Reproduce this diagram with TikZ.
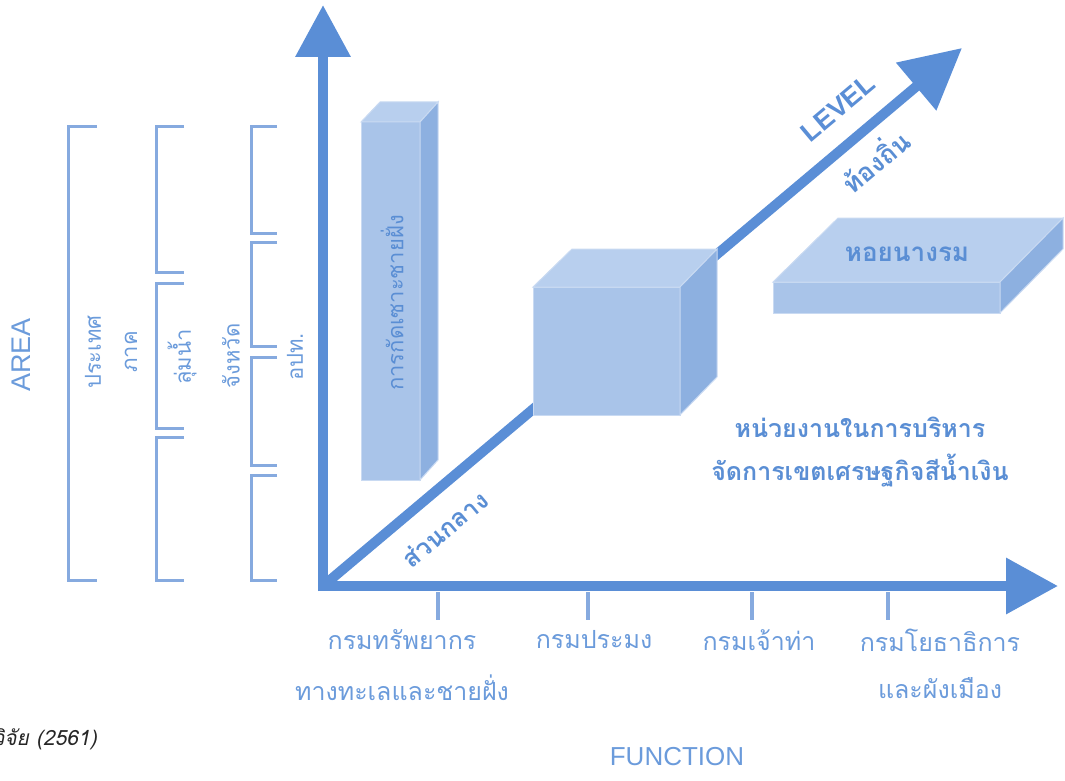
\documentclass[tikz,border=0pt]{standalone}
\usepackage{fontspec}
\setmainfont{Liberation Sans}
\newfontfamily\thai[Script=Thai]{Loma}
\newfontfamily\thaiit[Script=Thai,FakeSlant=0.2]{Loma}
\usetikzlibrary{arrows.meta}
\definecolor{axiscol}{HTML}{5A8ED6}
\definecolor{brackcol}{HTML}{86AADF}
\definecolor{labcol}{HTML}{6B9BDB}
\definecolor{boxtxt}{HTML}{5A8ED4}
\definecolor{frontcol}{HTML}{A9C4E9}
\definecolor{topcol}{HTML}{B8CFEE}
\definecolor{sidecol}{HTML}{8DB0E0}
\definecolor{edgecol}{HTML}{C9DAF2}
\begin{document}
\begin{tikzpicture}[x=1pt,y=-1pt,
  axisline/.style={draw=axiscol,line width=10pt},
  brack/.style={draw=brackcol,line width=3pt},
  tick/.style={draw=brackcol,line width=4pt},
  front/.style={fill=frontcol,draw=edgecol,line width=1pt},
  topf/.style={fill=topcol,draw=edgecol,line width=1pt},
  sidef/.style={fill=sidecol,draw=edgecol,line width=1pt},
  lab/.style={text=labcol,font=\thai\fontsize{25}{27}\selectfont,inner sep=0pt},
  vlab/.style={lab,font=\thai\fontsize{22}{24}\selectfont,rotate=90},
  boxlab/.style={text=boxtxt,font=\thai\bfseries\fontsize{25}{27}\selectfont,inner sep=0pt},
  axislab/.style={text=labcol,font=\fontsize{26}{28}\selectfont,inner sep=0pt}
]
\useasboundingbox (0,0) rectangle (1065,781);
% axes
\coordinate (O) at (323,586);
\coordinate (ytip) at (323,5);
\coordinate (xtip) at (1058,586);
\coordinate (dtip) at (962,48);
\coordinate (ob) at (323,591);
\coordinate (ol) at (318,586);
\draw[axisline,-{Triangle[length=52pt,width=53pt]}] (ob) -- (ytip);
\draw[axisline,-{Triangle[length=52pt,width=54pt]}] (ol) -- (xtip);
\draw[axisline,-{Triangle[length=60pt,width=60pt]}] (O) -- (dtip);
% ticks
\foreach \x/\n in {438/a,588/b,752/c,888/d}{
  \coordinate (t\n1) at (\x,592);
  \coordinate (t\n2) at (\x,620);
  \draw[tick] (t\n1) -- (t\n2);
}
% brackets
\draw[brack] (97,127) -- (68,127) -- (68,580) -- (97,580);
\draw[brack] (184,127) -- (156,127) -- (156,272) -- (184,272);
\draw[brack] (184,283) -- (156,283) -- (156,428) -- (184,428);
\draw[brack] (184,437) -- (156,437) -- (156,580) -- (184,580);
\draw[brack] (277,127) -- (251,127) -- (251,233) -- (277,233);
\draw[brack] (277,242) -- (251,242) -- (251,346) -- (277,346);
\draw[brack] (277,357) -- (251,357) -- (251,465) -- (277,465);
\draw[brack] (277,475) -- (251,475) -- (251,580) -- (277,580);
% tall box
\path[front] (361,122) rectangle (420,480);
\path[topf] (361,122) -- (380,102) -- (438,102) -- (420,122) -- cycle;
\path[sidef] (420,122) -- (438,102) -- (438,460) -- (420,480) -- cycle;
\node[boxlab,font=\thai\fontsize{22}{24}\selectfont,rotate=90] (erosion) at (392,303) {การกัดเซาะชายฝั่ง};
% cube
\path[front] (533,287) rectangle (680,415);
\path[topf] (533,287) -- (572,249) -- (717,249) -- (680,287) -- cycle;
\path[sidef] (680,287) -- (717,249) -- (717,377) -- (680,415) -- cycle;
% slab
\path[front] (773,282) rectangle (1000,313);
\path[topf] (773,282) -- (838,218) -- (1063,218) -- (1000,282) -- cycle;
\path[sidef] (1000,282) -- (1063,218) -- (1063,249) -- (1000,313) -- cycle;
\node[boxlab,font=\thai\bfseries\fontsize{26}{28}\selectfont] (oyster) at (907,254) {หอยนางรม};
% right text
\node[boxlab] (unit1) at (860,427) {หน่วยงานในการบริหาร};
\node[boxlab] (unit2) at (860,471) {จัดการเขตเศรษฐกิจสีน้ำเงิน};
% diagonal labels
\node[axislab,text=axiscol,font=\bfseries\fontsize{27}{29}\selectfont,rotate=40] (level) at (838,108) {LEVEL};
\node[boxlab,font=\thai\bfseries\fontsize{26}{28}\selectfont,rotate=40] (local) at (874,160) {ท้องถิ่น};
\node[boxlab,rotate=40] (central) at (445,529) {ส่วนกลาง};
% area labels
\node[axislab,font=\fontsize{27}{29}\selectfont,rotate=90] (area) at (21,355) {AREA};
\node[vlab] (country) at (93,352) {ประเทศ};
\node[vlab] (region) at (131,352) {ภาค};
\node[vlab] (basin) at (182,357) {ลุ่มน้ำ};
\node[vlab] (prov) at (231,356) {จังหวัด};
\node[vlab] (lao) at (295,357) {อปท.};
% function labels
\node[lab] (f1a) at (402,640) {กรมทรัพยากร};
\node[lab] (f1b) at (402,688) {ทางทะเลและชายฝั่ง};
\node[lab] (f2) at (594,640) {กรมประมง};
\node[lab] (f3) at (759,640) {กรมเจ้าท่า};
\node[lab] (f4a) at (940,640) {กรมโยธาธิการ};
\node[lab] (f4b) at (940,688) {และผังเมือง};
\node[axislab] (function) at (677,757) {FUNCTION};
% source
\node[anchor=east,inner sep=0pt,text=black!85,font=\thaiit\fontsize{21}{23}\selectfont] (src) at (97,739) {ผู้วิจัย (2561)};
\end{tikzpicture}
\end{document}
